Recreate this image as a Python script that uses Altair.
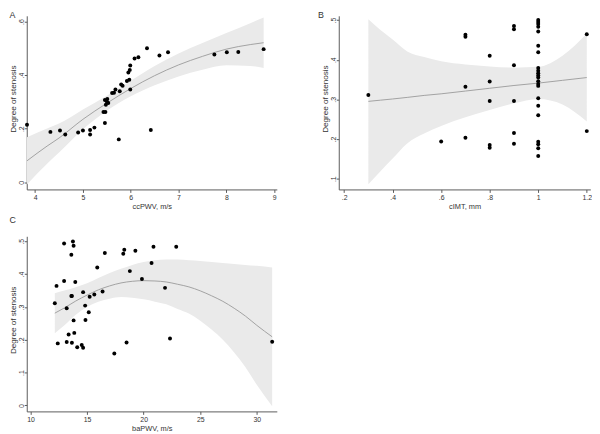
import altair as alt
import pandas as pd

# ---------------- Panel A : ccPWV ----------------
A_X = [3.83, 4.32, 4.52, 4.63, 4.90, 5.00, 5.15, 5.15, 5.24, 5.46,
       5.43, 5.47, 5.46, 5.48, 5.50, 5.51, 5.53, 5.61, 5.65, 5.68,
       5.75, 5.77, 5.80, 5.83, 5.92, 5.97, 5.99, 5.95, 5.98, 5.99,
       6.08, 6.16, 6.34, 6.42, 6.60, 6.78, 7.75, 8.01, 8.25, 8.78]
A_Y = [0.215, 0.188, 0.193, 0.178, 0.186, 0.193, 0.195, 0.178, 0.204, 0.221,
       0.262, 0.262, 0.307, 0.289, 0.301, 0.311, 0.296, 0.333, 0.334, 0.346,
       0.160, 0.340, 0.365, 0.360, 0.378, 0.383, 0.346, 0.410, 0.419, 0.436,
       0.462, 0.467, 0.500, 0.195, 0.473, 0.485, 0.477, 0.485, 0.486, 0.497]
A_FX = [3.83, 4.25, 4.5, 5.0, 5.5, 6.0, 6.5, 7.0, 7.5, 8.0, 8.5, 8.78]
A_FIT = [0.080, 0.135, 0.165, 0.235, 0.295, 0.350, 0.398, 0.438, 0.470, 0.497, 0.514, 0.521]
A_HI = [0.168, 0.201, 0.219, 0.272, 0.323, 0.379, 0.434, 0.481, 0.520, 0.557, 0.594, 0.615]
A_LO = [-0.008, 0.069, 0.111, 0.198, 0.267, 0.321, 0.362, 0.395, 0.420, 0.437, 0.434, 0.427]

# ---------------- Panel B : cIMT ----------------
B_X = [0.3, 0.6, 0.7, 0.7, 0.7, 0.7, 0.8, 0.8, 0.8, 0.8, 0.8,
       0.9, 0.9, 0.9, 0.9, 0.9, 0.9,
       1.0, 1.0, 1.0, 1.0, 1.0, 1.0, 1.0, 1.0, 1.0, 1.0, 1.0,
       1.0, 1.0, 1.0, 1.0, 1.0, 1.0, 1.0, 1.0, 1.0, 1.0, 1.0,
       1.2, 1.2]
B_Y = [0.311, 0.194, 0.463, 0.458, 0.332, 0.203, 0.410, 0.345, 0.296, 0.185, 0.178,
       0.485, 0.477, 0.386, 0.296, 0.215, 0.188,
       0.500, 0.495, 0.490, 0.483, 0.471, 0.435, 0.419, 0.379, 0.372, 0.366, 0.360,
       0.355, 0.346, 0.339, 0.334, 0.303, 0.284, 0.260, 0.193, 0.187, 0.177, 0.157,
       0.464, 0.220]
B_FX = [0.3, 0.35, 0.4, 0.46, 0.53, 0.6, 0.7, 0.8, 0.9, 1.0, 1.1, 1.2]
B_FIT = [0.295, 0.298, 0.301, 0.305, 0.310, 0.314, 0.321, 0.328, 0.335, 0.341, 0.348, 0.355]
B_HI = [0.502, 0.475, 0.451, 0.421, 0.407, 0.396, 0.388, 0.383, 0.380, 0.382, 0.410, 0.466]
B_LO = [0.086, 0.119, 0.151, 0.189, 0.214, 0.233, 0.255, 0.273, 0.290, 0.301, 0.287, 0.244]

# ---------------- Panel C : baPWV ----------------
C_X = [12.15, 12.3, 12.41, 12.97, 12.97, 13.2, 13.2, 13.37, 13.61, 13.61,
       13.66, 13.66, 13.75, 13.81, 13.81, 13.87, 13.96, 14.13, 14.53, 14.65,
       14.65, 14.83, 14.86, 15.15, 15.23, 15.64, 15.9, 16.37, 16.57, 17.41,
       18.2, 18.29, 18.49, 18.78, 19.27, 19.85, 20.7, 20.87, 21.89, 22.33,
       22.88, 31.36]
C_Y = [0.311, 0.364, 0.189, 0.493, 0.379, 0.296, 0.193, 0.216, 0.459, 0.333,
       0.333, 0.191, 0.499, 0.486, 0.259, 0.221, 0.376, 0.177, 0.184, 0.345,
       0.176, 0.304, 0.260, 0.284, 0.331, 0.338, 0.420, 0.347, 0.464, 0.158,
       0.462, 0.474, 0.192, 0.409, 0.471, 0.385, 0.434, 0.483, 0.358, 0.204,
       0.483, 0.194]
C_FX = [12.15, 13, 14, 15, 16, 17, 18, 19, 20, 21, 22, 23, 24, 25, 26, 27, 28, 29, 30, 31.36]
C_FIT = [0.281, 0.297, 0.318, 0.336, 0.352, 0.364, 0.373, 0.378, 0.380, 0.379,
         0.376, 0.369, 0.361, 0.349, 0.334, 0.317, 0.296, 0.272, 0.244, 0.209]
C_HI = [0.342, 0.350, 0.360, 0.372, 0.388, 0.403, 0.416, 0.428, 0.437, 0.442,
        0.444, 0.444, 0.442, 0.440, 0.437, 0.434, 0.431, 0.428, 0.425, 0.420]
C_LO = [0.220, 0.244, 0.276, 0.300, 0.316, 0.325, 0.330, 0.328, 0.323, 0.316,
        0.308, 0.294, 0.280, 0.258, 0.231, 0.200, 0.161, 0.116, 0.063, -0.002]

FONT = "Liberation Sans"
AXIS_C = "#5a5a5a"
TEXT_C = "#333333"
BAND_C = "#eaeaea"
FIT_C = "#9a9a9a"

DEC_EXPR = ("datum.value == 0 ? '0' : (datum.value == 1 ? '1' : "
            "replace(format(datum.value, '.1f'), '0.', '.'))")
INT_EXPR = "format(datum.value, 'd')"


def make_panel(letter, px, py, fx, fit, lo, hi, xdom, ydom, xvals, yvals,
               xexpr, xtitle, w, h, toff, tdx):
    pts = pd.DataFrame({"x": px, "y": py})
    fits = pd.DataFrame({"x": fx, "fit": fit, "lo": lo, "hi": hi})
    xax = alt.Axis(values=xvals, labelExpr=xexpr, title=xtitle, grid=False,
                   tickSize=3, labelPadding=1.5, titlePadding=1.5,
                   labelFontSize=7, titleFontSize=7.5,
                   labelFlush=False, labelOverlap=False)
    yax = alt.Axis(values=yvals, labelExpr=DEC_EXPR, title="Degree of stenosis",
                   grid=False, tickSize=2.5, labelPadding=0, labelAngle=270,
                   labelAlign="center", labelBaseline="bottom", labelFontSize=7,
                   titleFontSize=8.2, titleAngle=270, titleX=-17.5, titleY=h / 2 - 4,
                   titleAlign="center", titleBaseline="top",
                   labelFlush=False, labelOverlap=False)
    xs = alt.Scale(domain=xdom, nice=False, zero=False)
    ys = alt.Scale(domain=ydom, nice=False, zero=False)

    def X(f):
        return alt.X(f"{f}:Q", scale=xs, axis=xax)

    def Y(f):
        return alt.Y(f"{f}:Q", scale=ys, axis=yax)

    band = alt.Chart(fits).mark_area(color=BAND_C, opacity=1, interpolate="monotone").encode(
        x=X("x"), y=Y("lo"), y2="hi:Q")
    line = alt.Chart(fits).mark_line(color=FIT_C, strokeWidth=0.9, interpolate="monotone").encode(
        x=X("x"), y=Y("fit"))
    dots = alt.Chart(pts).mark_circle(color="black", opacity=1, size=16).encode(
        x=X("x"), y=Y("y"))
    return alt.layer(band, line, dots).properties(
        width=w, height=h,
        title=alt.TitleParams(letter, anchor="start", frame="group", offset=toff, dx=tdx,
                              fontSize=9, font=FONT, fontWeight="normal", color=TEXT_C))


pA = make_panel("A", A_X, A_Y, A_FX, A_FIT, A_LO, A_HI,
                [3.8246, 9.0557], [-0.0269, 0.6214], [4, 5, 6, 7, 8, 9], [0, 0.2, 0.4, 0.6],
                INT_EXPR, "ccPWV, m/s", 253.5, 176, -4, -17.5)
pB = make_panel("B", B_X, B_Y, B_FX, B_FIT, B_LO, B_HI,
                [0.17805, 1.21463], [0.0729, 0.5107], [0.2, 0.4, 0.6, 0.8, 1, 1.2],
                [0.1, 0.2, 0.3, 0.4, 0.5], DEC_EXPR, "cIMT, mm", 255, 176, -4, -21)
pC = make_panel("C", C_X, C_Y, C_FX, C_FIT, C_LO, C_HI,
                [9.6687, 31.770], [-0.01802, 0.5150], [10, 15, 20, 25, 30],
                [0, 0.1, 0.2, 0.3, 0.4, 0.5], INT_EXPR, "baPWV, m/s", 253.5, 177.5, 11, -17.5)

chart = alt.concat(pA, pB, pC, columns=2, spacing={"row": 47.5, "column": 62.3},
                   bounds="flush").properties(
    padding=0, background="white"
).configure_view(stroke=None).configure_axis(
    domainColor=AXIS_C, tickColor=AXIS_C, labelColor=TEXT_C, titleColor=TEXT_C,
    labelFont=FONT, titleFont=FONT, titleFontWeight="normal", domainWidth=1, tickWidth=1
)

chart.save("out.html", embed_options={"renderer": "svg", "actions": False})
